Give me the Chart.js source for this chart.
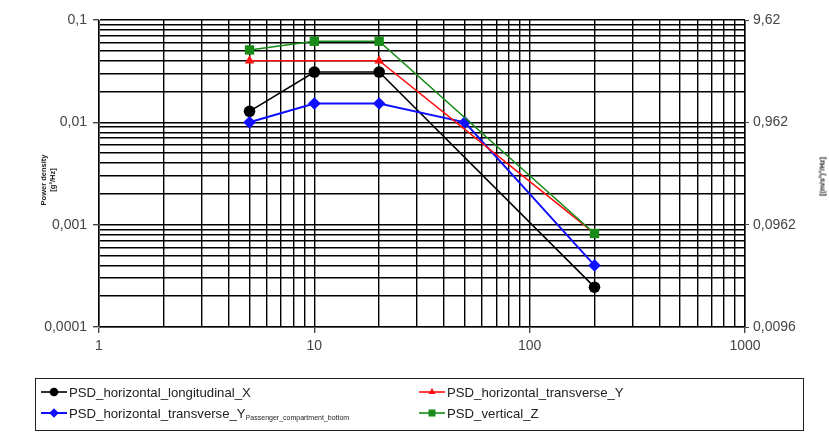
<!DOCTYPE html>
<html><head><meta charset="utf-8">
<script src="https://cdn.jsdelivr.net/npm/chart.js@4/dist/chart.umd.min.js"></script>
<style>
html,body{margin:0;padding:0;background:#fff;}
body{width:829px;height:434px;overflow:hidden;position:relative;font-family:"Liberation Sans",Arial,sans-serif;}
#c{position:absolute;left:0;top:0;}
.ttl{position:absolute;font-weight:bold;font-size:7.5px;color:#222;white-space:nowrap;text-align:center;line-height:9px;transform-origin:center center;}
#legend{position:absolute;left:35px;top:378px;width:769px;height:53px;border:1px solid #222;box-sizing:border-box;}
.li{position:absolute;height:20px;display:flex;align-items:center;font-size:13.2px;color:#222;white-space:nowrap;}
.li canvas{margin-right:1px;}
.sub{font-size:7px;position:relative;top:4px;}
</style></head>
<body>
<canvas id="c" width="829" height="434"></canvas>
<div class="ttl" id="tl" style="left:18px;top:171px;width:60px;transform:rotate(-90deg);">Power density<br>[g²/Hz]</div>
<div class="ttl" id="tr" style="left:792px;top:172px;width:60px;transform:rotate(-90deg);">[(m/s²)²/Hz]</div>
<div id="legend"></div>
<script>
// ---- data ----
const freqX  = [5, 10, 20, 200];
const psdX   = [0.0128, 0.031, 0.031, 0.000245];
const freqYp = [5, 10, 20, 50, 200];
const psdYp  = [0.0100, 0.0153, 0.0153, 0.0100, 0.0004];
const freqY  = [5, 20, 200];
const psdY   = [0.040, 0.040, 0.00082];
const freqZ  = [5, 10, 20, 200];
const psdZ   = [0.051, 0.062, 0.062, 0.00082];
const xTickLabels  = ['1', '10', '100', '1000'];
const yTickLabels  = ['0,0001', '0,001', '0,01', '0,1'];
const y2TickLabels = ['0,0096', '0,0962', '0,962', '9,62'];
const y2TickValues = [0.00962, 0.0962, 0.962, 9.62];
const seriesNames = ['PSD_horizontal_longitudinal_X', 'PSD_horizontal_transverse_Y', 'PSD_horizontal_transverse_Y', 'PSD_vertical_Z'];

function pts(xs, ys){ return xs.map((x,i)=>({x:x, y:ys[i]})); }
function logTicks(e0, e1){
  const out=[];
  for(let e=e0;e<e1;e++){ for(let k=1;k<=9;k++){ out.push({value:parseFloat((k*Math.pow(10,e)).toPrecision(3))}); } }
  out.push({value:Math.pow(10,e1)});
  return out;
}
function isPow10(v){ const l=Math.log10(v); return Math.abs(l-Math.round(l))<1e-9; }

const styles = [
  {color:'#000000', style:'circle', r:5.8, w:1.6},
  {color:'#1010ff', style:'rectRot', r:6.3, w:2},
  {color:'#ff1010', style:'triangle', r:5.5, w:1.6},
  {color:'#178a17', style:'rect', r:6.6, w:1.6}
];
const drawOrder = [3, 2, 1, 0];
const dataSets = [pts(freqX,psdX), pts(freqYp,psdYp), pts(freqY,psdY), pts(freqZ,psdZ)];

const chart = new Chart(document.getElementById('c'), {
  type:'line',
  data:{datasets: dataSets.map((d,i)=>({
    label: seriesNames[i], data:d, borderColor:styles[i].color, backgroundColor:styles[i].color,
    borderWidth:styles[i].w, pointStyle:styles[i].style, pointRadius:styles[i].r,
    pointBorderWidth:0, tension:0, yAxisID:'y', order:drawOrder[i]
  }))},
  options:{
    responsive:false, animation:false, devicePixelRatio:1,
    layout:{padding:{left:0,right:0,top:20,bottom:0}},
    plugins:{legend:{display:false}, tooltip:{enabled:false}},
    scales:{
      x:{type:'logarithmic', min:1, max:1000,
        afterBuildTicks:s=>{s.ticks=logTicks(0,3);},
        afterFit:s=>{s.height=107;},
        ticks:{autoSkip:false, maxRotation:0, padding:5, color:'#444', font:{size:14,family:'"Liberation Sans",Arial'},
          callback:(v)=>{ if(!isPow10(v)) return ''; return xTickLabels[Math.round(Math.log10(v))]; }},
        grid:{color:'#000', lineWidth:1.4, tickLength:6,
          tickColor:c=>isPow10(c.tick.value)?'#444':'rgba(0,0,0,0)'},
        border:{color:'#555', width:1}
      },
      y:{type:'logarithmic', position:'left', min:0.0001, max:0.1,
        afterBuildTicks:s=>{s.ticks=logTicks(-4,-1);},
        afterFit:s=>{s.width=99;},
        ticks:{autoSkip:false, padding:6, color:'#444', font:{size:14,family:'"Liberation Sans",Arial'},
          callback:(v)=>{ if(!isPow10(v)) return ''; return yTickLabels[Math.round(Math.log10(v))+4]; }},
        grid:{color:'#000', lineWidth:1.4, tickLength:6,
          tickColor:c=>isPow10(c.tick.value)?'#444':'rgba(0,0,0,0)'},
        border:{color:'#555', width:1}
      },
      y2:{type:'logarithmic', position:'right', min:0.00962, max:9.62,
        afterBuildTicks:s=>{s.ticks=y2TickValues.map(v=>({value:v}));},
        afterFit:s=>{s.width=84;},
        ticks:{autoSkip:false, padding:4, color:'#444', font:{size:14,family:'"Liberation Sans",Arial'},
          callback:(v,i)=>y2TickLabels[i]},
        grid:{drawOnChartArea:false, color:'#444', tickLength:4},
        border:{color:'#555', width:1}
      }
    }
  }
});

// ---- HTML legend ----
const legend = document.getElementById('legend');
const pos = [{l:4,t:3},{l:4,t:24},{l:382,t:3},{l:382,t:24}];
[0,1,2,3].forEach((i,idx)=>{
  const p = pos[idx];
  const d = document.createElement('div');
  d.className='li'; d.style.left=p.l+'px'; d.style.top=p.t+'px';
  const cv = document.createElement('canvas'); cv.width=28; cv.height=14;
  const g = cv.getContext('2d');
  const st = styles[i];
  g.strokeStyle=st.color; g.lineWidth=st.w; g.beginPath(); g.moveTo(1,7); g.lineTo(27,7); g.stroke();
  g.fillStyle=st.color; g.strokeStyle=st.color;
  Chart.helpers.drawPoint(g, {pointStyle:st.style, radius:st.r*0.75, borderWidth:0}, 14, 7);
  d.appendChild(cv);
  const t = document.createElement('span'); t.textContent=seriesNames[i];
  d.appendChild(t);
  if(i===1){ const s=document.createElement('span'); s.className='sub'; s.textContent='Passenger_compartment_bottom'; d.appendChild(s); }
  legend.appendChild(d);
});
</script>
</body></html>
